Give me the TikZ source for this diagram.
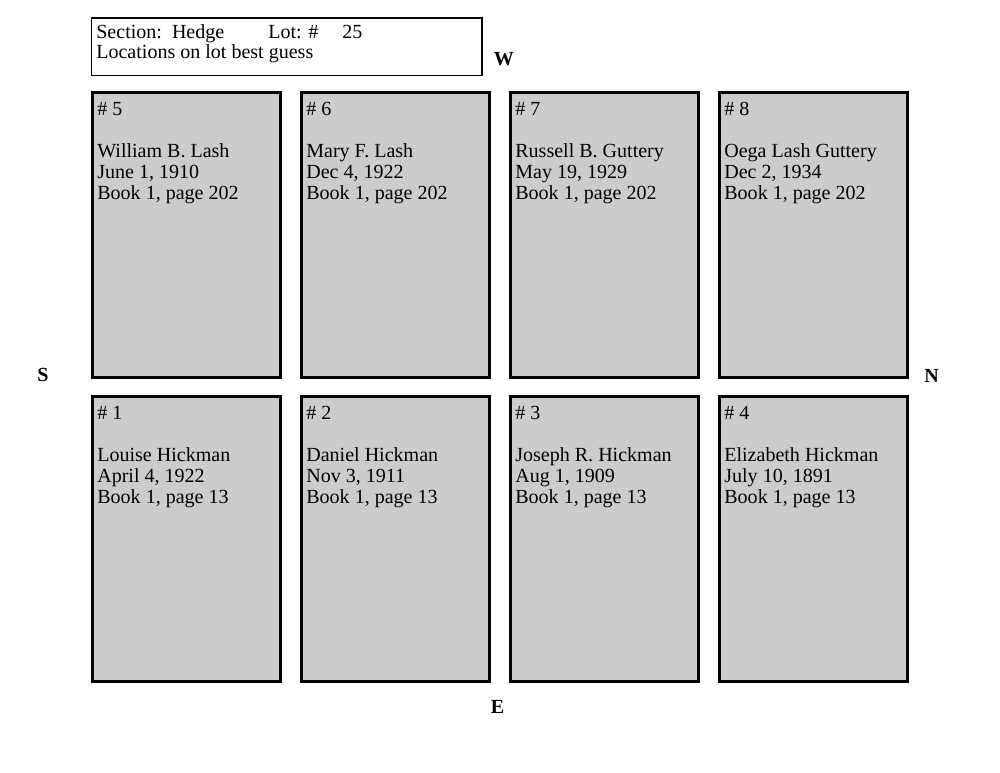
\documentclass[tikz,border=0pt]{standalone}
\usepackage{fontspec}
\setmainfont{Liberation Serif}
\usepackage{tikz}
\definecolor{plotgray}{HTML}{CCCCCC}
\newcommand{\plotfont}{\fontsize{11.4pt}{11.95pt}\selectfont}
\newcommand{\plotbox}[7]{%
\node[plot] (#1) at (#2,#3) {};
\node[plottext] (#1txt) at ([shift={(4.5,7.8)}]#1.north west) {\strut\# #4\\ \\ #5\\ #6\\ #7};
}

\begin{document}
\begin{tikzpicture}[x=0.02cm, y=-0.02cm,
  plot/.style={draw, line width=1.4pt, fill=plotgray, outer sep=0pt, anchor=north west,
    minimum width=3.76cm, minimum height=5.7cm},
  plottext/.style={anchor=north west, inner sep=0pt, align=left, font=\plotfont},
  header/.style={draw, line width=0.7pt, outer sep=0pt, anchor=north west,
    minimum width=7.81cm, minimum height=1.15cm},
  label/.style={anchor=base west, inner sep=0pt, font=\plotfont},
  compass/.style={anchor=base, inner sep=0pt, font=\plotfont\bfseries}]
\useasboundingbox (0,0) rectangle (1000,773);
% header
\node[header] (lotinfo) at (91.5,18) {};
\node[label] (section) at (96,38.5) {Section:\ \ Hedge};
\node[label] (lot) at (268,38.5) {Lot: \#};
\node[label] (lotnum) at (342,38.5) {25};
\node[label] (guess) at (96,59) {Locations on lot best guess};
% compass
\node[compass] (west) at (504,66) {W};
\node[compass] (east) at (497.5,713) {E};
\node[compass] (south) at (43,381) {S};
\node[compass] (north) at (931.5,382) {N};
% top row
\plotbox{plotfive}{92.5}{92.5}{5}{William B. Lash}{June 1, 1910}{Book 1, page 202}
\plotbox{plotsix}{301.5}{92.5}{6}{Mary F. Lash}{Dec 4, 1922}{Book 1, page 202}
\plotbox{plotseven}{510.5}{92.5}{7}{Russell B. Guttery}{May 19, 1929}{Book 1, page 202}
\plotbox{ploteight}{719.5}{92.5}{8}{Oega Lash Guttery}{Dec 2, 1934}{Book 1, page 202}
% bottom row
\plotbox{plotone}{92.5}{396.5}{1}{Louise Hickman}{April 4, 1922}{Book 1, page 13}
\plotbox{plottwo}{301.5}{396.5}{2}{Daniel Hickman}{Nov 3, 1911}{Book 1, page 13}
\plotbox{plotthree}{510.5}{396.5}{3}{Joseph R. Hickman}{Aug 1, 1909}{Book 1, page 13}
\plotbox{plotfour}{719.5}{396.5}{4}{Elizabeth Hickman}{July 10, 1891}{Book 1, page 13}
\end{tikzpicture}
\end{document}
